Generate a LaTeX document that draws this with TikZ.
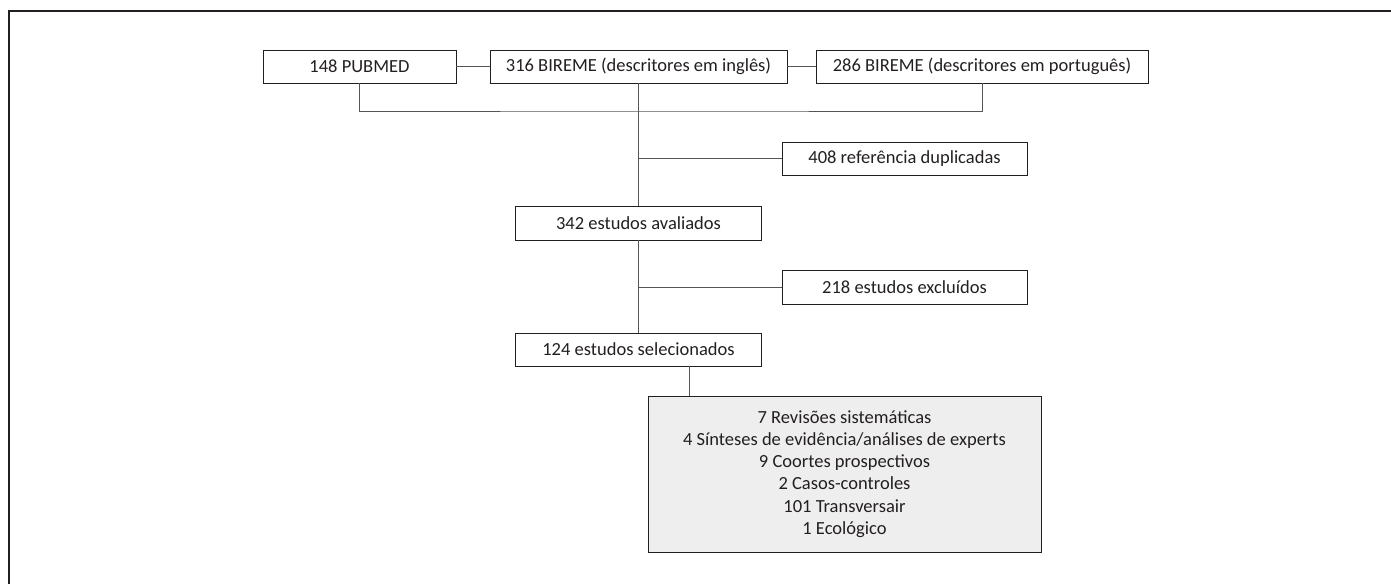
\documentclass[tikz,border=0pt]{standalone}
\usepackage{fontspec}
\setmainfont{Carlito}
\usetikzlibrary{positioning,calc}
\definecolor{inkgray}{HTML}{231F20}
\definecolor{linegray}{HTML}{555555}
\definecolor{boxfill}{HTML}{EEEEEE}

\begin{document}
\begin{tikzpicture}[x=1pt, y=-1pt,
    box/.style={draw=inkgray, line width=0.9pt, minimum height=33pt, inner sep=0pt,
        text=inkgray, font=\fontsize{18.5}{22.3}\selectfont},
    link/.style={draw=linegray, line width=0.9pt}]
    \useasboundingbox (0,0) rectangle (1391,584);

    % Frame
    \draw[inkgray, line width=1.6pt] (1391,11) -- (9,11) -- (9,584);

    % Sources
    \node[box, minimum width=193pt] (pubmed) at (359.5,66.5) {148 PUBMED};
    \node[box, minimum width=297pt] (eng) at (638.5,66.5) {316 BIREME (descritores em inglês)};
    \node[box, minimum width=332pt] (pt) at (982,66.5) {286 BIREME (descritores em português)};
    \coordinate (merge) at (638.5,111);

    % Screening steps
    \node[box, minimum width=245pt] (dup) at (904.5,158.5) {408 referência duplicadas};
    \node[box, minimum width=246pt, minimum height=34pt] (aval) at (638.5,223) {342 estudos avaliados};
    \node[box, minimum width=245pt, minimum height=34pt] (excl) at (904.5,287) {218 estudos excluídos};
    \node[box, minimum width=246pt] (sel) at (638.5,349.5) {124 estudos selecionados};
    \node[box, fill=boxfill, align=center, minimum width=393pt, minimum height=156pt] (tipos) at (844.5,474) {
        7 Revisões sistemáticas\\
        4 Sínteses de evidência/análises de experts\\
        9 Coortes prospectivos\\
        2 Casos-controles\\
        101 Transversair\\
        1 Ecológico};

    % Connectors
    \draw[link] (pubmed.east) -- (eng.west);
    \draw[link] (eng.east) -- (pt.west);
    \draw[link] (pubmed.south) |- (merge) -| (pt.south);
    \draw[link] (eng.south) -- (aval.north);
    \draw[link] (eng.south |- dup.west) -- (dup.west);
    \draw[link] (aval.south) -- (sel.north);
    \draw[link] (aval.south |- excl.west) -- (excl.west);
    \draw[link] ([xshift=50.5pt]sel.south) -- ([xshift=50.5pt]sel.south |- tipos.north);
\end{tikzpicture}
\end{document}
